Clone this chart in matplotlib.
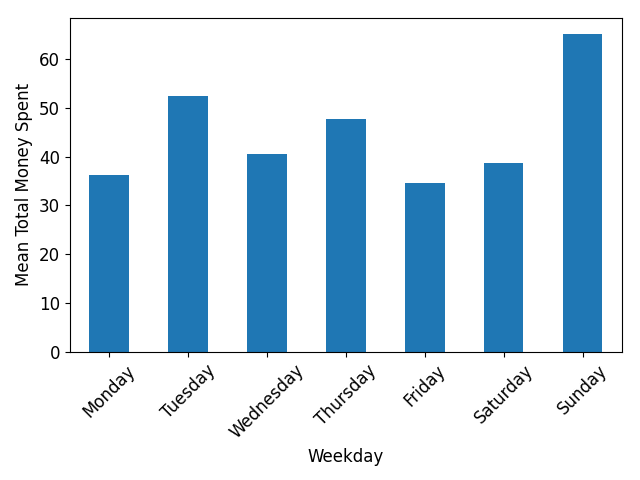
import matplotlib
matplotlib.use("Agg")
import matplotlib.pyplot as plt
import pandas as pd

weekdays = ["Monday", "Tuesday", "Wednesday", "Thursday", "Friday", "Saturday", "Sunday"]
mean_spent = [36.27, 52.46, 40.57, 47.75, 34.63, 38.73, 65.16]

s = pd.Series(mean_spent, index=weekdays)

fig, ax = plt.subplots(figsize=(6.4, 4.8), dpi=100)
s.plot(kind="bar", ax=ax, color="#1f77b4")
ax.set_xlabel("Weekday", fontsize=12)
ax.set_ylabel("Mean Total Money Spent", fontsize=12)
ax.tick_params(axis="both", labelsize=12)
plt.setp(ax.get_xticklabels(), rotation=45)
plt.subplots_adjust(left=0.109, right=0.972, top=0.9625, bottom=0.267)
plt.savefig("out.png")
